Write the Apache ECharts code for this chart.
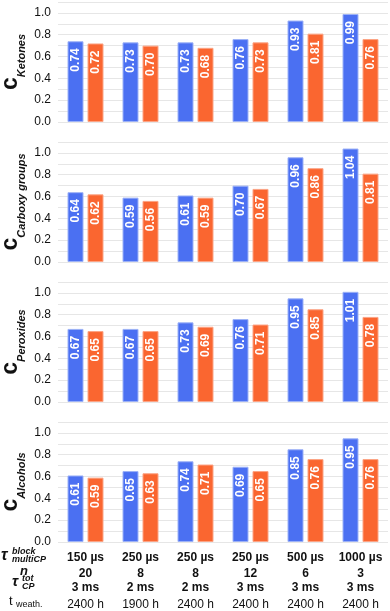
<!DOCTYPE html>
<html>
<head>
<meta charset="utf-8">
<script src="https://cdn.jsdelivr.net/npm/echarts@6/dist/echarts.min.js"></script>
<style>
  html, body { margin: 0; padding: 0; background: #fff; }
  #main { width: 390px; height: 611px; }
</style>
</head>
<body>
<div id="main"></div>
<script>
// conditions (x axis rows)
const tauBlock = ['150 µs', '250 µs', '250 µs', '250 µs', '500 µs', '1000 µs'];
const nCycles = ['20', '8', '8', '12', '6', '3'];
const tauTot = ['3 ms', '2 ms', '2 ms', '3 ms', '3 ms', '3 ms'];
const tWeath = ['2400 h', '1900 h', '2400 h', '2400 h', '2400 h', '2400 h'];

// panel names
const panelNames = ['Ketones', 'Carboxy groups', 'Peroxides', 'Alcohols'];

// blue / orange values per panel
const ketonesBlue = [0.74, 0.73, 0.73, 0.76, 0.93, 0.99];
const ketonesOrange = [0.72, 0.70, 0.68, 0.73, 0.81, 0.76];
const carboxyBlue = [0.64, 0.59, 0.61, 0.70, 0.96, 1.04];
const carboxyOrange = [0.62, 0.56, 0.59, 0.67, 0.86, 0.81];
const peroxBlue = [0.67, 0.67, 0.73, 0.76, 0.95, 1.01];
const peroxOrange = [0.65, 0.65, 0.69, 0.71, 0.85, 0.78];
const alcoholsBlue = [0.61, 0.65, 0.74, 0.69, 0.85, 0.95];
const alcoholsOrange = [0.59, 0.63, 0.71, 0.65, 0.76, 0.76];

const blueSets = [ketonesBlue, carboxyBlue, peroxBlue, alcoholsBlue];
const orangeSets = [ketonesOrange, carboxyOrange, peroxOrange, alcoholsOrange];

const FONT = 'Liberation Sans, Arial, sans-serif';
const idx = tauBlock.map((d, i) => String(i));

var myChart = echarts.init(document.getElementById('main'));

const grids = [], xAxes = [], yAxes = [], series = [], titles = [];
for (let p = 0; p < 4; p++) {
    grids.push({ left: 58, right: 2, top: 2 + 140 * p, height: 120 });
    const last = p === 3;
    xAxes.push({
        type: 'category',
        gridIndex: p,
        data: idx,
        axisLine: { show: false },
        axisTick: { show: false },
        axisLabel: last ? {
            show: true,
            interval: 0,
            margin: 8,
            formatter: (v, i) => `{a|${tauBlock[i]}}\n{b|${nCycles[i]}}\n{c|${tauTot[i]}}\n{d|${tWeath[i]}}`,
            rich: {
                a: { fontFamily: FONT, fontSize: 12, fontWeight: 'bold', color: '#111', lineHeight: 16 },
                b: { fontFamily: FONT, fontSize: 12, fontWeight: 'bold', color: '#111', lineHeight: 15 },
                c: { fontFamily: FONT, fontSize: 12, fontWeight: 'bold', color: '#111', lineHeight: 13 },
                d: { fontFamily: FONT, fontSize: 12, color: '#111', lineHeight: 22 }
            }
        } : { show: false }
    });
    yAxes.push({
        type: 'value',
        gridIndex: p,
        min: 0,
        max: 1.1,
        interval: 0.1,
        axisLine: { show: false },
        axisTick: { show: false },
        axisLabel: {
            fontFamily: FONT, fontSize: 12, color: '#111', margin: 7,
            formatter: v => (Math.round(v * 10) % 2 === 0 ? v.toFixed(1) : '')
        },
        splitLine: { lineStyle: { color: '#e6e6e6', width: 1 } }
    });
    // rotated y title: c with subscript
    titles.push({
        type: 'text',
        x: 12,
        y: 2 + 140 * p + 60,
        rotation: Math.PI / 2,
        style: {
            text: `{c|c}{s|${panelNames[p]}}`,
            align: 'center',
            verticalAlign: 'middle',
            rich: {
                c: { fontFamily: FONT, fontSize: 23, fontWeight: 'bold', fill: '#111', lineHeight: 26, verticalAlign: 'top' },
                s: { fontFamily: FONT, fontSize: 11, fontWeight: 'bold', fontStyle: 'italic', fill: '#111', lineHeight: 11, padding: [19, 0, 0, 0] }
            }
        }
    });
    const label = {
        show: true,
        position: 'insideTop',
        rotate: 90,
        align: 'right',
        verticalAlign: 'middle',
        distance: 7,
        color: '#fff',
        fontFamily: FONT,
        fontSize: 12,
        fontWeight: 'bold',
        formatter: d => d.value.toFixed(2)
    };
    series.push({
        type: 'bar', xAxisIndex: p, yAxisIndex: p,
        data: blueSets[p], barWidth: 16, barGap: '25%',
        itemStyle: { color: '#4b70f2', borderColor: '#9db2f7', borderWidth: 1 },
        label: label
    });
    series.push({
        type: 'bar', xAxisIndex: p, yAxisIndex: p,
        data: orangeSets[p], barWidth: 16, barGap: '25%',
        itemStyle: { color: '#fa6630', borderColor: '#fca485', borderWidth: 1 },
        label: label
    });
}

// row headers at the bottom left
const hdr = (text, x, y, font, align) => ({
    type: 'text', x: x, y: y,
    style: { text: text, font: font + ' ' + FONT, fill: '#111', align: align || 'left', verticalAlign: 'middle' }
});

myChart.setOption({
    animation: false,
    grid: grids,
    xAxis: xAxes,
    yAxis: yAxes,
    series: series,
    graphic: titles.concat([
        hdr('τ', 1, 556, 'italic bold 16px'),
        hdr('block', 12, 552, 'italic bold 9px'),
        hdr('multiCP', 12, 560, 'italic bold 9px'),
        hdr('n', 24, 571.5, 'italic bold 13px', 'center'),
        hdr('τ', 12, 582, 'italic bold 15px'),
        hdr('tot', 22, 579, 'italic bold 9px'),
        hdr('CP', 22, 587, 'italic bold 9px'),
        hdr('t', 9, 601, '13px'),
        hdr('weath.', 16, 604.5, '9px')
    ])
});
</script>
</body>
</html>
